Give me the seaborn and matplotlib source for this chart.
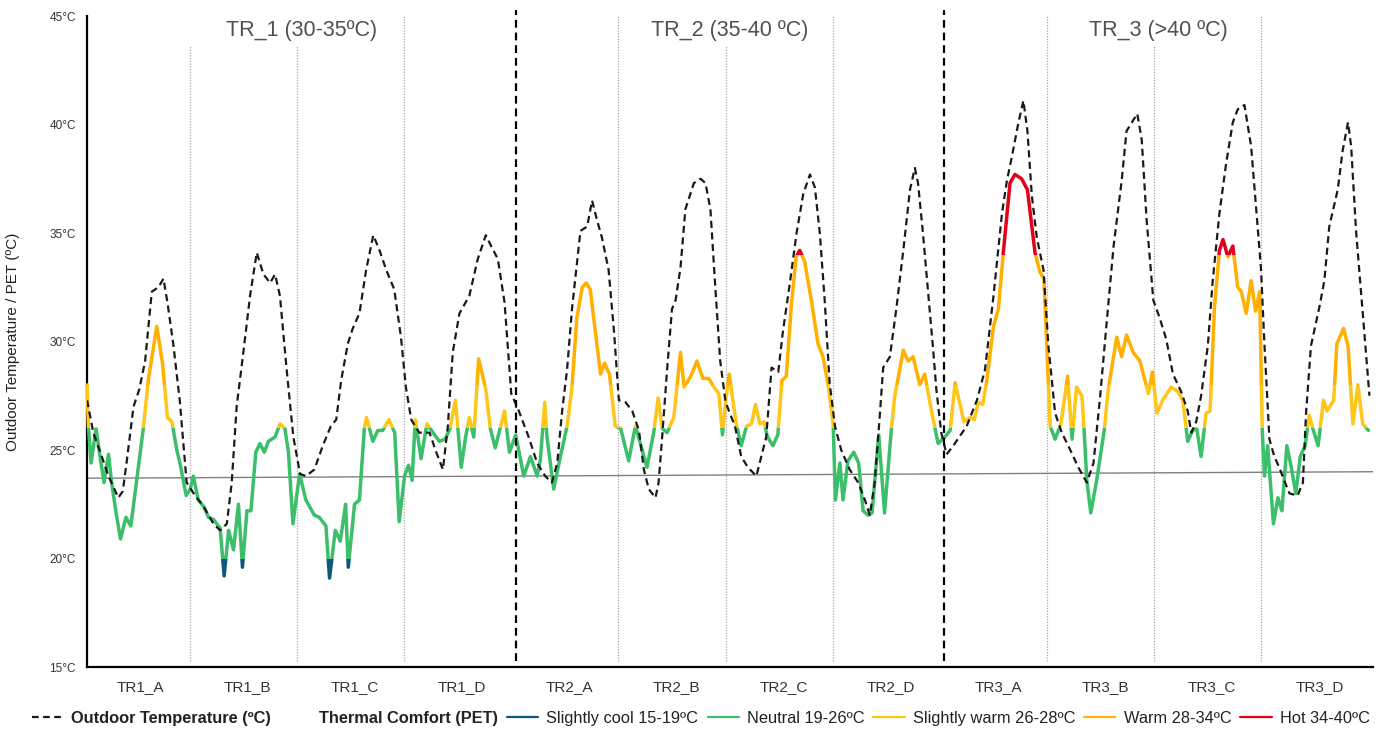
import numpy as np
import seaborn as sns
import matplotlib.pyplot as plt
from matplotlib.lines import Line2D
from matplotlib.patches import Rectangle

# hours since start of the 12 monitored days (24 h per day)
t_out = [0, 1.4, 3.3, 4.8, 7.0, 8.0, 8.9, 10.4, 11.7, 13.0, 14.5, 16.0, 17.1, 18.0, 19.3, 20.8, 22.3,
         24.2, 26.1, 28.3, 29.8, 31.3, 32.4, 33.5, 35.0, 36.5, 38.0, 39.5, 41.0, 42.1, 43.2, 44.7, 46.2, 47.7,
         49.0, 50.9, 52.8, 54.6, 55.8, 56.9, 58.4, 59.5, 61.0, 62.5, 64.1, 65.5, 67.0, 68.8, 70.3, 71.4,
         72.6, 74.4, 76.7, 78.2, 79.7, 80.8, 81.9, 83.4, 85.6, 87.5, 89.3, 90.5, 92.0, 93.5, 95.0,
         96.7, 98.9, 100.8, 102.6, 104.1, 105.3, 106.4, 107.5, 108.6, 110.5, 112.0, 113.1, 114.2, 115.3,
         116.8, 118.0, 119.1, 120.6, 122.1, 123.6, 124.7, 125.8, 127.3, 128.0, 128.8, 129.9, 131.0, 131.8,
         132.9, 134.0, 135.9, 137.4, 138.5, 139.6, 140.7, 141.8, 143.0,
         145.1, 146.5, 148.0, 149.9, 151.0, 152.1, 153.3, 154.8, 155.8, 157.4, 158.9, 160.4, 161.9, 163.0,
         164.1, 165.2, 166.3, 167.5, 168.9, 170.8, 172.7, 174.2, 175.3, 176.4, 177.5, 178.3, 179.8, 181.3,
         182.8, 184.3, 185.4, 186.1, 187.2, 188.4, 189.5, 190.2, 191.3, 192.5,
         194.0, 197.0, 199.3, 201.1, 203.0, 204.9, 206.0, 207.1, 208.6, 209.7, 210.6, 211.6, 212.7, 214.2,
         215.3, 216.8, 218.3, 220.2, 222.0, 223.9, 225.4, 226.9, 228.4, 229.9, 231.7, 232.8, 234.3, 235.2,
         236.2, 237.3, 238.8,
         240.2, 241.7, 243.2, 245.0, 246.5, 247.3, 248.4, 249.5, 251.0, 252.1, 253.6, 255.1, 256.6, 257.7,
         259.2, 260.7, 261.8, 262.9, 263.7, 264.8, 265.9, 267.0, 268.1, 269.3, 271.1, 272.3, 273.0, 274.1,
         276.0, 277.1, 278.2, 280.1, 281.2, 282.4, 283.1, 284.2, 285.7, 287.2]
temp_out = [27.3, 25.8, 24.7, 23.8, 22.8, 23.1, 24.5, 27.0, 27.8, 29.1, 32.3, 32.5, 32.9, 31.8, 29.9, 27.2, 23.5,
            22.9, 22.4, 21.6, 21.3, 21.6, 23.5, 27.0, 29.5, 32.1, 34.1, 33.1, 32.7, 33.1, 32.1, 28.7, 25.6, 23.9,
            23.8, 24.1, 25.2, 26.1, 26.4, 28.2, 29.9, 30.6, 31.3, 33.3, 34.9, 34.2, 33.3, 32.4, 30.2, 27.9,
            26.4, 25.8, 25.8, 24.9, 24.1, 26.1, 29.5, 31.3, 32.1, 33.8, 34.9, 34.4, 33.8, 31.8, 27.6,
            26.8, 25.6, 24.4, 23.8, 23.5, 24.4, 26.8, 28.7, 31.5, 35.1, 35.3, 36.5, 35.6, 34.8,
            33.3, 30.5, 27.3, 27.2, 26.8, 25.9, 24.1, 23.2, 22.8, 23.5, 25.6, 28.7, 31.5, 31.9,
            33.4, 36.1, 37.3, 37.5, 37.3, 36.1, 32.5, 29.1, 27.2,
            26.1, 24.7, 24.2, 23.8, 24.7, 25.6, 28.8, 28.6, 30.4, 32.7, 35.0, 36.8, 37.7, 37.1,
            35.0, 31.9, 28.1, 26.1, 25.0, 24.1, 23.5, 22.7, 22.0, 23.5, 26.5, 28.8, 29.3, 31.6,
            34.2, 37.0, 38.0, 37.3, 35.0, 32.2, 29.6, 27.8, 25.8, 24.8,
            25.2, 26.1, 27.3, 28.7, 32.1, 35.9, 37.4, 38.5, 40.1, 41.1, 39.7, 36.7, 34.8, 33.3,
            29.8, 26.7, 25.8, 25.0, 24.2, 23.5, 24.4, 27.5, 31.0, 34.4, 37.4, 39.7, 40.2, 40.5,
            39.3, 35.6, 31.9,
            31.1, 30.1, 28.5, 27.7, 26.8, 25.8, 26.3, 27.5, 29.8, 32.8, 35.9, 38.2, 40.1, 40.7,
            40.9, 39.0, 36.2, 33.4, 29.8, 25.5, 24.7, 24.2, 23.6, 23.0, 22.9, 23.5, 26.7, 29.8,
            31.6, 32.8, 35.3, 37.0, 38.8, 40.1, 39.0, 35.1, 31.3, 27.5]

t_pet = [0, 0.3, 0.9, 2.0, 2.9, 3.8, 4.8, 5.5, 6.5, 7.5, 8.7, 9.8, 11.1, 12.6, 13.7, 15.6, 16.9, 18.0, 19.0,
         20.1, 20.8, 22.2, 23.1, 23.8, 24.9, 26.1, 27.2, 28.3, 29.8, 30.7, 31.7, 32.8, 33.9, 34.8, 35.8, 36.7,
         37.8, 38.7, 39.7, 40.6, 42.1, 43.2, 44.3, 45.1, 46.1, 47.6,
         49.0, 50.9, 52.0, 53.5, 54.3, 55.6, 56.7, 57.9, 58.5, 59.9, 61.0, 62.1, 62.6, 64.0, 65.1, 66.2,
         67.6, 68.9, 69.9, 71.1, 72.0, 72.8, 73.5, 74.8, 76.1, 77.5, 78.9, 80.2, 81.3, 82.5, 83.8, 84.7,
         85.6, 86.6, 87.7, 89.3, 90.3, 91.4, 93.5, 94.6,
         96.0, 97.8, 99.3, 100.8, 101.5, 102.5, 103.0, 104.5, 106.0, 107.5, 108.6, 109.7, 110.9, 111.8,
         112.7, 113.8, 115.0, 115.9, 117.0, 118.3, 119.5, 121.3, 122.8, 123.5, 125.4, 126.9, 127.9, 128.8,
         129.9, 131.4, 132.9, 133.7, 135.2, 136.6, 137.9, 139.2, 140.4, 141.5, 142.3, 143.0, 143.8,
         145.4, 146.5, 147.7, 148.8, 149.7, 150.7, 151.6, 152.4, 153.6, 154.7, 155.6, 156.6, 157.7, 158.8,
         159.6, 160.7, 162.2, 163.7, 164.8, 165.9, 167.1, 167.6, 168.6, 169.3, 170.4, 171.7, 172.8, 173.8,
         174.9, 175.8, 177.3, 178.6, 180.1, 180.9, 182.8, 183.9, 185.0, 186.5, 187.6, 189.1, 190.6, 192.1,
         193.3, 194.4, 196.4, 197.8, 198.7, 199.6, 200.6, 201.5, 203.0, 204.1, 205.2, 206.7, 207.8, 209.3,
         210.6, 212.3, 213.4, 214.3, 215.7, 216.8, 218.1, 219.6, 220.6, 221.6, 222.8, 223.3, 223.9, 224.8,
         226.1, 227.8, 228.7, 230.6, 231.7, 232.8, 234.3, 235.8, 237.7, 238.6, 239.6,
         240.9, 242.8, 244.3, 245.4, 246.5, 247.6, 248.5, 249.5, 250.6, 251.5, 252.5, 253.6, 254.4, 255.5,
         256.6, 257.7, 258.5, 259.6, 260.7, 261.7, 262.6, 263.2, 263.7, 264.4, 265.7, 266.7, 267.6, 268.7,
         269.7, 270.7, 271.7, 272.8, 273.7, 274.5, 275.7, 276.9, 277.7, 279.2, 279.9, 281.4, 282.4, 283.5,
         284.6, 285.7, 287.0]
pet = [28.0, 26.1, 24.4, 26.0, 24.7, 23.5, 24.8, 23.5, 22.1, 20.9, 21.9, 21.5, 23.6, 26.0, 28.2, 30.7, 29.0, 26.5, 26.3,
       25.0, 24.4, 22.9, 23.2, 23.8, 22.7, 22.4, 21.9, 21.8, 21.4, 19.2, 21.3, 20.4, 22.5, 19.6, 22.2, 22.2,
       24.9, 25.3, 24.9, 25.4, 25.6, 26.2, 26.0, 24.9, 21.6, 23.9,
       22.7, 22.0, 21.9, 21.5, 19.1, 21.3, 20.8, 22.5, 19.6, 22.5, 22.7, 26.0, 26.5, 25.4, 25.9, 25.9,
       26.4, 25.8, 21.7, 23.8, 24.3, 23.6, 26.4, 24.6, 26.2, 25.8, 25.4, 25.5, 26.0, 27.3, 24.2, 25.5,
       26.5, 25.6, 29.2, 27.8, 26.0, 25.1, 26.8, 24.9,
       25.7, 23.8, 24.7, 23.8, 24.5, 27.2, 25.6, 23.2, 24.7, 26.1, 27.9, 31.1, 32.5, 32.7,
       32.4, 30.5, 28.5, 29.0, 28.5, 26.1, 26.0, 24.5, 26.1, 25.6, 24.2, 25.8, 27.4, 26.0,
       25.8, 26.5, 29.5, 27.9, 28.4, 29.1, 28.3, 28.3, 27.9, 27.6, 25.7, 27.2, 28.5,
       26.2, 25.2, 26.1, 26.2, 27.1, 26.2, 26.3, 25.6, 25.2, 25.7, 28.2, 28.4, 31.6, 33.9,
       34.2, 33.7, 31.9, 29.9, 29.3, 28.1, 26.2, 22.7, 24.4, 22.7, 24.5, 24.9, 24.4, 22.2,
       22.0, 22.1, 25.7, 22.1, 25.9, 27.5, 29.6, 29.1, 29.3, 28.0, 28.5, 26.8, 25.3, 25.6,
       25.9, 28.1, 26.3, 26.5, 26.4, 27.2, 27.1, 28.2, 30.7, 31.5, 34.1, 37.3, 37.7, 37.5,
       37.0, 34.1, 33.2, 32.9, 26.1, 25.5, 26.2, 28.4, 25.5, 27.9, 27.5, 25.9, 23.6, 22.1,
       23.6, 25.9, 27.8, 30.2, 29.3, 30.3, 29.5, 29.1, 27.6, 28.6, 26.7,
       27.3, 27.9, 27.7, 27.3, 25.4, 25.9, 26.0, 24.7, 26.7, 26.8, 31.6, 34.2, 34.7, 33.9,
       34.4, 32.5, 32.3, 31.3, 32.8, 31.4, 32.3, 25.9, 23.8, 25.2, 21.6, 22.8, 22.2, 25.2,
       24.2, 23.0, 24.7, 25.2, 26.6, 26.0, 25.2, 27.3, 26.8, 27.3, 29.9, 30.6, 29.8, 26.2,
       28.0, 26.2, 25.9]

days = ["TR1_A", "TR1_B", "TR1_C", "TR1_D", "TR2_A", "TR2_B", "TR2_C", "TR2_D",
        "TR3_A", "TR3_B", "TR3_C", "TR3_D"]
groups = ["TR_1 (30-35ºC)", "TR_2 (35-40 ºC)", "TR_3 (>40 ºC)"]
trend = [23.7, 24.0]  # linear trend across the whole period

comfort_labels = ["Slightly cool 15-19ºC", "Neutral 19-26ºC", "Slightly warm 26-28ºC",
                  "Warm 28-34ºC", "Hot 34-40ºC"]
comfort_edges = [10, 20.0, 26, 28, 34, 50]
comfort_colors = ["#0b5a7a", "#3cbf6b", "#ffc61a", "#ffb000", "#e2001a"]

sns.set_style("white")
plt.rcParams["font.family"] = ["Liberation Sans", "DejaVu Sans"]

fig = plt.figure(figsize=(13.82, 7.39), dpi=100)
ax = fig.add_axes([0.063, 0.0974, 0.9305, 0.8809])

# PET line, coloured by comfort band (same line clipped to each band)
for lo, hi, col in zip(comfort_edges[:-1], comfort_edges[1:], comfort_colors):
    sns.lineplot(x=t_pet, y=pet, ax=ax, color=col, lw=2.5, estimator=None, sort=False, zorder=3)
    band = Rectangle((-50, lo), 400, hi - lo, transform=ax.transData)
    ax.lines[-1].set_clip_path(band)

# outdoor temperature
sns.lineplot(x=t_out, y=temp_out, ax=ax, color="#1a1a1a", lw=1.6, estimator=None, sort=False, zorder=4)
ax.lines[-1].set_linestyle((0, (3.2, 2.0)))

# trend line
sns.lineplot(x=[0, 288], y=trend, ax=ax, color="#808080", lw=1.0, zorder=2)

# day / group separators
for k in range(1, 12):
    if k % 4 == 0:
        ax.plot([24 * k, 24 * k], [15.3, 45.3], color="black", lw=1.6,
                ls=(0, (3.5, 2.2)), clip_on=False, zorder=5)
    else:
        top = 43.6 if k in (1, 2, 6, 10) else 45
        ax.plot([24 * k - 1, 24 * k - 1], [15.3, top], color="#a8a8a8", lw=0.9,
                ls=(0, (1, 1.2)), zorder=1)

for i, g in enumerate(groups):
    ax.text(48 + 96 * i, 44.35, g, ha="center", va="center", fontsize=15.5, color="#505050")

ax.set_xlim(0, 288)
ax.set_ylim(15, 45)
ax.set_xticks(range(0, 289, 24))
ax.set_xticklabels([])
ax.set_xticks(np.arange(12, 288, 24), minor=True)
ax.set_xticklabels(days, minor=True)
ax.tick_params(axis="x", which="major", direction="out", length=5, width=1.3, color="black")
ax.tick_params(axis="x", which="minor", length=0, pad=9, labelsize=11, labelcolor="#333333")
ax.set_yticks(range(15, 46, 5))
ax.set_yticklabels([f"{v}°C" for v in range(15, 46, 5)])
ax.tick_params(axis="y", direction="out", length=5, width=1.3, color="black", pad=3,
               labelsize=8.5, labelcolor="#333333")
ax.set_xlabel("")
ax.set_ylabel("Outdoor Temperature / PET (ºC)", fontsize=11, color="#222222")
ax.yaxis.set_label_coords(-0.052, 0.5)

for side in ["top", "right"]:
    ax.spines[side].set_visible(False)
for side in ["left", "bottom"]:
    ax.spines[side].set_color("black")
    ax.spines[side].set_linewidth(1.6)

handles = [Line2D([], [], color="#1a1a1a", lw=1.6, ls=(0, (3, 2))),
           Line2D([], [], color="none")]
handles += [Line2D([], [], color=c, lw=1.6) for c in comfort_colors]
labels = ["Outdoor Temperature (ºC)", "Thermal Comfort (PET)"] + comfort_labels
leg = fig.legend(handles, labels, loc="center", bbox_to_anchor=(0.507, 0.028), ncol=7,
                 frameon=False, fontsize=11.8, handlelength=1.9, handletextpad=0.5,
                 columnspacing=0.55)
for txt in leg.get_texts()[:2]:
    txt.set_fontweight("bold")
for txt in leg.get_texts():
    txt.set_color("#222222")

fig.savefig("out.png", dpi=100)
